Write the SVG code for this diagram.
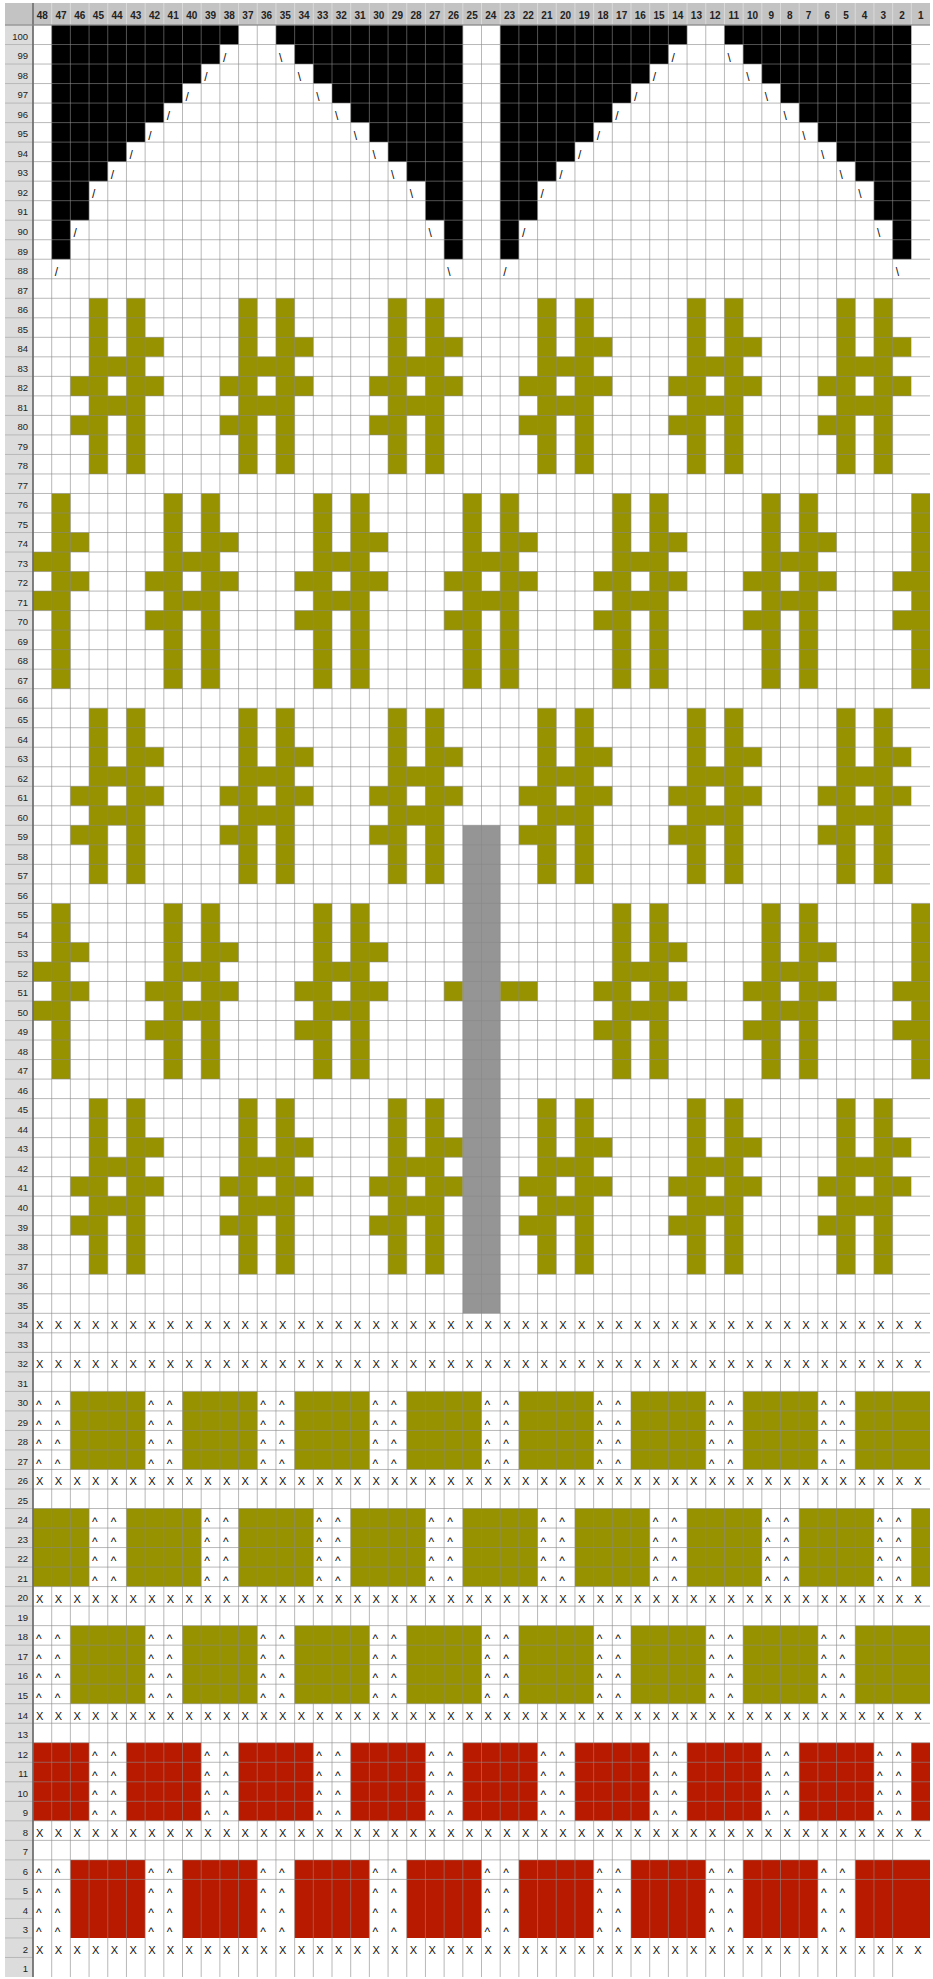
<svg xmlns="http://www.w3.org/2000/svg" xmlns:xlink="http://www.w3.org/1999/xlink" width="933" height="1979" viewBox="0 0 933 1979">
<style>
.lbl{font:9.5px "Liberation Sans",Arial,sans-serif;fill:#222;text-anchor:end}
.hdr{font:bold 10px "Liberation Sans",Arial,sans-serif;fill:#222;text-anchor:middle}
.sym{font:11px "Liberation Sans",Arial,sans-serif;fill:#111}
.car{font:12px "Liberation Sans",Arial,sans-serif;fill:#111}
.sl{font:12px "Liberation Sans",Arial,sans-serif;fill:#111}
.ol{fill:#979200}
.rd{fill:#b81a00}
.bk{fill:#000}
.gy{fill:#959595}
.grid{fill:none;stroke:#888;stroke-opacity:.6;stroke-width:1}
</style>
<defs>
<clipPath id="gridclip"><rect x="0" y="0" width="48" height="100"/></clipPath>
<path id="mA" class="ol" d="M0 0h1v9h-1zM2 0h1v9h-1zM3 2h1v1h-1zM1 3h1v1h-1zM-1 4h1v1h-1zM3 4h1v1h-1zM1 5h1v1h-1zM-1 6h1v1h-1z"/>
<path id="mB" class="ol" d="M0 0h1v10h-1zM2 0h1v10h-1zM3 2h1v1h-1zM1 3h1v1h-1zM-1 4h1v1h-1zM3 4h1v1h-1zM1 5h1v1h-1zM-1 6h1v1h-1z"/>
</defs>
<rect width="933" height="1979" fill="#fff"/>
<g id="header">
<rect x="5" y="3" width="925" height="22" fill="#c3c3c3"/>
<g transform="translate(33 25) scale(18.6875 19.52)"><path d="M0 -1.13v1.13m1-1.13v1.13m1-1.13v1.13m1-1.13v1.13m1-1.13v1.13m1-1.13v1.13m1-1.13v1.13m1-1.13v1.13m1-1.13v1.13m1-1.13v1.13m1-1.13v1.13m1-1.13v1.13m1-1.13v1.13m1-1.13v1.13m1-1.13v1.13m1-1.13v1.13m1-1.13v1.13m1-1.13v1.13m1-1.13v1.13m1-1.13v1.13m1-1.13v1.13m1-1.13v1.13m1-1.13v1.13m1-1.13v1.13m1-1.13v1.13m1-1.13v1.13m1-1.13v1.13m1-1.13v1.13m1-1.13v1.13m1-1.13v1.13m1-1.13v1.13m1-1.13v1.13m1-1.13v1.13m1-1.13v1.13m1-1.13v1.13m1-1.13v1.13m1-1.13v1.13m1-1.13v1.13m1-1.13v1.13m1-1.13v1.13m1-1.13v1.13m1-1.13v1.13m1-1.13v1.13m1-1.13v1.13m1-1.13v1.13m1-1.13v1.13m1-1.13v1.13m1-1.13v1.13" fill="none" stroke="#dadada" stroke-width="1" vector-effect="non-scaling-stroke"/></g>
<text class="hdr" x="42.34" y="19">48</text><text class="hdr" x="61.03" y="19">47</text><text class="hdr" x="79.72" y="19">46</text><text class="hdr" x="98.41" y="19">45</text><text class="hdr" x="117.09" y="19">44</text><text class="hdr" x="135.78" y="19">43</text><text class="hdr" x="154.47" y="19">42</text><text class="hdr" x="173.16" y="19">41</text><text class="hdr" x="191.84" y="19">40</text><text class="hdr" x="210.53" y="19">39</text><text class="hdr" x="229.22" y="19">38</text><text class="hdr" x="247.91" y="19">37</text><text class="hdr" x="266.59" y="19">36</text><text class="hdr" x="285.28" y="19">35</text><text class="hdr" x="303.97" y="19">34</text><text class="hdr" x="322.66" y="19">33</text><text class="hdr" x="341.34" y="19">32</text><text class="hdr" x="360.03" y="19">31</text><text class="hdr" x="378.72" y="19">30</text><text class="hdr" x="397.41" y="19">29</text><text class="hdr" x="416.09" y="19">28</text><text class="hdr" x="434.78" y="19">27</text><text class="hdr" x="453.47" y="19">26</text><text class="hdr" x="472.16" y="19">25</text><text class="hdr" x="490.84" y="19">24</text><text class="hdr" x="509.53" y="19">23</text><text class="hdr" x="528.22" y="19">22</text><text class="hdr" x="546.91" y="19">21</text><text class="hdr" x="565.59" y="19">20</text><text class="hdr" x="584.28" y="19">19</text><text class="hdr" x="602.97" y="19">18</text><text class="hdr" x="621.66" y="19">17</text><text class="hdr" x="640.34" y="19">16</text><text class="hdr" x="659.03" y="19">15</text><text class="hdr" x="677.72" y="19">14</text><text class="hdr" x="696.41" y="19">13</text><text class="hdr" x="715.09" y="19">12</text><text class="hdr" x="733.78" y="19">11</text><text class="hdr" x="752.47" y="19">10</text><text class="hdr" x="771.16" y="19">9</text><text class="hdr" x="789.84" y="19">8</text><text class="hdr" x="808.53" y="19">7</text><text class="hdr" x="827.22" y="19">6</text><text class="hdr" x="845.91" y="19">5</text><text class="hdr" x="864.59" y="19">4</text><text class="hdr" x="883.28" y="19">3</text><text class="hdr" x="901.97" y="19">2</text><text class="hdr" x="920.66" y="19">1</text>
</g>
<g id="row-labels">
<rect x="5" y="25" width="28" height="1952" fill="#dcdcdc"/>
<g transform="translate(0 25) scale(1 19.52)"><path d="M5 0h28m-28 1h28m-28 1h28m-28 1h28m-28 1h28m-28 1h28m-28 1h28m-28 1h28m-28 1h28m-28 1h28m-28 1h28m-28 1h28m-28 1h28m-28 1h28m-28 1h28m-28 1h28m-28 1h28m-28 1h28m-28 1h28m-28 1h28m-28 1h28m-28 1h28m-28 1h28m-28 1h28m-28 1h28m-28 1h28m-28 1h28m-28 1h28m-28 1h28m-28 1h28m-28 1h28m-28 1h28m-28 1h28m-28 1h28m-28 1h28m-28 1h28m-28 1h28m-28 1h28m-28 1h28m-28 1h28m-28 1h28m-28 1h28m-28 1h28m-28 1h28m-28 1h28m-28 1h28m-28 1h28m-28 1h28m-28 1h28m-28 1h28m-28 1h28m-28 1h28m-28 1h28m-28 1h28m-28 1h28m-28 1h28m-28 1h28m-28 1h28m-28 1h28m-28 1h28m-28 1h28m-28 1h28m-28 1h28m-28 1h28m-28 1h28m-28 1h28m-28 1h28m-28 1h28m-28 1h28m-28 1h28m-28 1h28m-28 1h28m-28 1h28m-28 1h28m-28 1h28m-28 1h28m-28 1h28m-28 1h28m-28 1h28m-28 1h28m-28 1h28m-28 1h28m-28 1h28m-28 1h28m-28 1h28m-28 1h28m-28 1h28m-28 1h28m-28 1h28m-28 1h28m-28 1h28m-28 1h28m-28 1h28m-28 1h28m-28 1h28m-28 1h28m-28 1h28m-28 1h28m-28 1h28m-28 1h28" fill="none" stroke="#b8b8b8" stroke-width="1" vector-effect="non-scaling-stroke"/></g>
<text class="lbl" x="28" y="39.8">100</text><text class="lbl" x="28" y="59.32">99</text><text class="lbl" x="28" y="78.84">98</text><text class="lbl" x="28" y="98.36">97</text><text class="lbl" x="28" y="117.88">96</text><text class="lbl" x="28" y="137.4">95</text><text class="lbl" x="28" y="156.92">94</text><text class="lbl" x="28" y="176.44">93</text><text class="lbl" x="28" y="195.96">92</text><text class="lbl" x="28" y="215.48">91</text><text class="lbl" x="28" y="235">90</text><text class="lbl" x="28" y="254.52">89</text><text class="lbl" x="28" y="274.04">88</text><text class="lbl" x="28" y="293.56">87</text><text class="lbl" x="28" y="313.08">86</text><text class="lbl" x="28" y="332.6">85</text><text class="lbl" x="28" y="352.12">84</text><text class="lbl" x="28" y="371.64">83</text><text class="lbl" x="28" y="391.16">82</text><text class="lbl" x="28" y="410.68">81</text><text class="lbl" x="28" y="430.2">80</text><text class="lbl" x="28" y="449.72">79</text><text class="lbl" x="28" y="469.24">78</text><text class="lbl" x="28" y="488.76">77</text><text class="lbl" x="28" y="508.28">76</text><text class="lbl" x="28" y="527.8">75</text><text class="lbl" x="28" y="547.32">74</text><text class="lbl" x="28" y="566.84">73</text><text class="lbl" x="28" y="586.36">72</text><text class="lbl" x="28" y="605.88">71</text><text class="lbl" x="28" y="625.4">70</text><text class="lbl" x="28" y="644.92">69</text><text class="lbl" x="28" y="664.44">68</text><text class="lbl" x="28" y="683.96">67</text><text class="lbl" x="28" y="703.48">66</text><text class="lbl" x="28" y="723">65</text><text class="lbl" x="28" y="742.52">64</text><text class="lbl" x="28" y="762.04">63</text><text class="lbl" x="28" y="781.56">62</text><text class="lbl" x="28" y="801.08">61</text><text class="lbl" x="28" y="820.6">60</text><text class="lbl" x="28" y="840.12">59</text><text class="lbl" x="28" y="859.64">58</text><text class="lbl" x="28" y="879.16">57</text><text class="lbl" x="28" y="898.68">56</text><text class="lbl" x="28" y="918.2">55</text><text class="lbl" x="28" y="937.72">54</text><text class="lbl" x="28" y="957.24">53</text><text class="lbl" x="28" y="976.76">52</text><text class="lbl" x="28" y="996.28">51</text><text class="lbl" x="28" y="1015.8">50</text><text class="lbl" x="28" y="1035.32">49</text><text class="lbl" x="28" y="1054.84">48</text><text class="lbl" x="28" y="1074.36">47</text><text class="lbl" x="28" y="1093.88">46</text><text class="lbl" x="28" y="1113.4">45</text><text class="lbl" x="28" y="1132.92">44</text><text class="lbl" x="28" y="1152.44">43</text><text class="lbl" x="28" y="1171.96">42</text><text class="lbl" x="28" y="1191.48">41</text><text class="lbl" x="28" y="1211">40</text><text class="lbl" x="28" y="1230.52">39</text><text class="lbl" x="28" y="1250.04">38</text><text class="lbl" x="28" y="1269.56">37</text><text class="lbl" x="28" y="1289.08">36</text><text class="lbl" x="28" y="1308.6">35</text><text class="lbl" x="28" y="1328.12">34</text><text class="lbl" x="28" y="1347.64">33</text><text class="lbl" x="28" y="1367.16">32</text><text class="lbl" x="28" y="1386.68">31</text><text class="lbl" x="28" y="1406.2">30</text><text class="lbl" x="28" y="1425.72">29</text><text class="lbl" x="28" y="1445.24">28</text><text class="lbl" x="28" y="1464.76">27</text><text class="lbl" x="28" y="1484.28">26</text><text class="lbl" x="28" y="1503.8">25</text><text class="lbl" x="28" y="1523.32">24</text><text class="lbl" x="28" y="1542.84">23</text><text class="lbl" x="28" y="1562.36">22</text><text class="lbl" x="28" y="1581.88">21</text><text class="lbl" x="28" y="1601.4">20</text><text class="lbl" x="28" y="1620.92">19</text><text class="lbl" x="28" y="1640.44">18</text><text class="lbl" x="28" y="1659.96">17</text><text class="lbl" x="28" y="1679.48">16</text><text class="lbl" x="28" y="1699">15</text><text class="lbl" x="28" y="1718.52">14</text><text class="lbl" x="28" y="1738.04">13</text><text class="lbl" x="28" y="1757.56">12</text><text class="lbl" x="28" y="1777.08">11</text><text class="lbl" x="28" y="1796.6">10</text><text class="lbl" x="28" y="1816.12">9</text><text class="lbl" x="28" y="1835.64">8</text><text class="lbl" x="28" y="1855.16">7</text><text class="lbl" x="28" y="1874.68">6</text><text class="lbl" x="28" y="1894.2">5</text><text class="lbl" x="28" y="1913.72">4</text><text class="lbl" x="28" y="1933.24">3</text><text class="lbl" x="28" y="1952.76">2</text><text class="lbl" x="28" y="1972.28">1</text>
</g>
<g id="cells" transform="translate(33 25) scale(18.6875 19.52)">
<g clip-path="url(#gridclip)">
<g id="black-triangles">
<polygon class="bk" points="1,0 11,0 11,1 10,1 10,2 9,2 9,3 8,3 8,4 7,4 7,5 6,5 6,6 5,6 5,7 4,7 4,8 3,8 3,10 2,10 2,12 1,12"/>
<polygon class="bk" points="13,0 23,0 23,12 22,12 22,10 21,10 21,8 20,8 20,7 19,7 19,6 18,6 18,5 17,5 17,4 16,4 16,3 15,3 15,2 14,2 14,1 13,1"/>
<polygon class="bk" points="25,0 35,0 35,1 34,1 34,2 33,2 33,3 32,3 32,4 31,4 31,5 30,5 30,6 29,6 29,7 28,7 28,8 27,8 27,10 26,10 26,12 25,12"/>
<polygon class="bk" points="37,0 47,0 47,12 46,12 46,10 45,10 45,8 44,8 44,7 43,7 43,6 42,6 42,5 41,5 41,4 40,4 40,3 39,3 39,2 38,2 38,1 37,1"/>
</g>
<g id="motifs">
<use href="#mA" x="3" y="14"/><use href="#mA" x="11" y="14"/><use href="#mA" x="19" y="14"/><use href="#mA" x="27" y="14"/><use href="#mA" x="35" y="14"/><use href="#mA" x="43" y="14"/>
<use href="#mB" x="-1" y="24"/><use href="#mB" x="7" y="24"/><use href="#mB" x="15" y="24"/><use href="#mB" x="23" y="24"/><use href="#mB" x="31" y="24"/><use href="#mB" x="39" y="24"/><use href="#mB" x="47" y="24"/>
<use href="#mA" x="3" y="35"/><use href="#mA" x="11" y="35"/><use href="#mA" x="19" y="35"/><use href="#mA" x="27" y="35"/><use href="#mA" x="35" y="35"/><use href="#mA" x="43" y="35"/>
<use href="#mA" x="-1" y="45"/><use href="#mA" x="7" y="45"/><use href="#mA" x="15" y="45"/><use href="#mA" x="31" y="45"/><use href="#mA" x="39" y="45"/><use href="#mA" x="47" y="45"/>
<rect class="ol" x="22" y="49" width="1" height="1"/><rect class="ol" x="25" y="49" width="2" height="1"/>
<use href="#mA" x="3" y="55"/><use href="#mA" x="11" y="55"/><use href="#mA" x="19" y="55"/><use href="#mA" x="27" y="55"/><use href="#mA" x="35" y="55"/><use href="#mA" x="43" y="55"/>
</g>
<rect id="gray-column" class="gy" x="23" y="41" width="2" height="25"/>
<g id="bands">
<path class="ol" d="M2 70h4v4h-4zM8 70h4v4h-4zM14 70h4v4h-4zM20 70h4v4h-4zM26 70h4v4h-4zM32 70h4v4h-4zM38 70h4v4h-4zM44 70h4v4h-4z"/>
<path class="ol" d="M0 76h3v4h-3zM5 76h4v4h-4zM11 76h4v4h-4zM17 76h4v4h-4zM23 76h4v4h-4zM29 76h4v4h-4zM35 76h4v4h-4zM41 76h4v4h-4zM47 76h1v4h-1z"/>
<path class="ol" d="M2 82h4v4h-4zM8 82h4v4h-4zM14 82h4v4h-4zM20 82h4v4h-4zM26 82h4v4h-4zM32 82h4v4h-4zM38 82h4v4h-4zM44 82h4v4h-4z"/>
<path class="rd" d="M0 88h3v4h-3zM5 88h4v4h-4zM11 88h4v4h-4zM17 88h4v4h-4zM23 88h4v4h-4zM29 88h4v4h-4zM35 88h4v4h-4zM41 88h4v4h-4zM47 88h1v4h-1z"/>
<path class="rd" d="M2 94h4v4h-4zM8 94h4v4h-4zM14 94h4v4h-4zM20 94h4v4h-4zM26 94h4v4h-4zM32 94h4v4h-4zM38 94h4v4h-4zM44 94h4v4h-4z"/>
</g>
</g>
</g>
<g id="grid" transform="translate(33 25) scale(18.6875 19.52)">
<path class="grid" vector-effect="non-scaling-stroke" d="M0 0v100m1-100v100m1-100v100m1-100v100m1-100v100m1-100v100m1-100v100m1-100v100m1-100v100m1-100v100m1-100v100m1-100v100m1-100v100m1-100v100m1-100v100m1-100v100m1-100v100m1-100v100m1-100v100m1-100v100m1-100v100m1-100v100m1-100v100m1-100v100m1-100v100m1-100v100m1-100v100m1-100v100m1-100v100m1-100v100m1-100v100m1-100v100m1-100v100m1-100v100m1-100v100m1-100v100m1-100v100m1-100v100m1-100v100m1-100v100m1-100v100m1-100v100m1-100v100m1-100v100m1-100v100m1-100v100m1-100v100"/>
<path class="grid" vector-effect="non-scaling-stroke" d="M0 0h48m-48 1h48m-48 1h48m-48 1h48m-48 1h48m-48 1h48m-48 1h48m-48 1h48m-48 1h48m-48 1h48m-48 1h48m-48 1h48m-48 1h48m-48 1h48m-48 1h48m-48 1h48m-48 1h48m-48 1h48m-48 1h48m-48 1h48m-48 1h48m-48 1h48m-48 1h48m-48 1h48m-48 1h48m-48 1h48m-48 1h48m-48 1h48m-48 1h48m-48 1h48m-48 1h48m-48 1h48m-48 1h48m-48 1h48m-48 1h48m-48 1h48m-48 1h48m-48 1h48m-48 1h48m-48 1h48m-48 1h48m-48 1h48m-48 1h48m-48 1h48m-48 1h48m-48 1h48m-48 1h48m-48 1h48m-48 1h48m-48 1h48m-48 1h48m-48 1h48m-48 1h48m-48 1h48m-48 1h48m-48 1h48m-48 1h48m-48 1h48m-48 1h48m-48 1h48m-48 1h48m-48 1h48m-48 1h48m-48 1h48m-48 1h48m-48 1h48m-48 1h48m-48 1h48m-48 1h48m-48 1h48m-48 1h48m-48 1h48m-48 1h48m-48 1h48m-48 1h48m-48 1h48m-48 1h48m-48 1h48m-48 1h48m-48 1h48m-48 1h48m-48 1h48m-48 1h48m-48 1h48m-48 1h48m-48 1h48m-48 1h48m-48 1h48m-48 1h48m-48 1h48m-48 1h48m-48 1h48m-48 1h48m-48 1h48m-48 1h48m-48 1h48"/>
</g>
<line x1="33" y1="3" x2="33" y2="1977" stroke="#6a6a6a" stroke-width="1.6"/>
<line x1="5" y1="25" x2="930" y2="25" stroke="#8a8a8a" stroke-width="1"/>
<g id="decrease-marks">
<text class="sl" x="222.88" y="61.52">/</text><text class="sl" x="204.19" y="81.04">/</text><text class="sl" x="185.5" y="100.56">/</text><text class="sl" x="166.81" y="120.08">/</text><text class="sl" x="148.13" y="139.6">/</text><text class="sl" x="129.44" y="159.12">/</text><text class="sl" x="110.75" y="178.64">/</text><text class="sl" x="92.06" y="198.16">/</text><text class="sl" x="73.38" y="237.2">/</text><text class="sl" x="54.69" y="276.24">/</text>
<text class="sl" x="278.94" y="61.52">\</text><text class="sl" x="297.63" y="81.04">\</text><text class="sl" x="316.31" y="100.56">\</text><text class="sl" x="335" y="120.08">\</text><text class="sl" x="353.69" y="139.6">\</text><text class="sl" x="372.38" y="159.12">\</text><text class="sl" x="391.06" y="178.64">\</text><text class="sl" x="409.75" y="198.16">\</text><text class="sl" x="428.44" y="237.2">\</text><text class="sl" x="447.13" y="276.24">\</text>
<text class="sl" x="671.38" y="61.52">/</text><text class="sl" x="652.69" y="81.04">/</text><text class="sl" x="634" y="100.56">/</text><text class="sl" x="615.31" y="120.08">/</text><text class="sl" x="596.63" y="139.6">/</text><text class="sl" x="577.94" y="159.12">/</text><text class="sl" x="559.25" y="178.64">/</text><text class="sl" x="540.56" y="198.16">/</text><text class="sl" x="521.88" y="237.2">/</text><text class="sl" x="503.19" y="276.24">/</text>
<text class="sl" x="727.44" y="61.52">\</text><text class="sl" x="746.13" y="81.04">\</text><text class="sl" x="764.81" y="100.56">\</text><text class="sl" x="783.5" y="120.08">\</text><text class="sl" x="802.19" y="139.6">\</text><text class="sl" x="820.88" y="159.12">\</text><text class="sl" x="839.56" y="178.64">\</text><text class="sl" x="858.25" y="198.16">\</text><text class="sl" x="876.94" y="237.2">\</text><text class="sl" x="895.63" y="276.24">\</text>
</g>
<g id="x-rows">
<g transform="translate(0 1329.32)"><text class="sym" x="36">X</text><text class="sym" x="54.69">X</text><text class="sym" x="73.38">X</text><text class="sym" x="92.06">X</text><text class="sym" x="110.75">X</text><text class="sym" x="129.44">X</text><text class="sym" x="148.13">X</text><text class="sym" x="166.81">X</text><text class="sym" x="185.5">X</text><text class="sym" x="204.19">X</text><text class="sym" x="222.88">X</text><text class="sym" x="241.56">X</text><text class="sym" x="260.25">X</text><text class="sym" x="278.94">X</text><text class="sym" x="297.63">X</text><text class="sym" x="316.31">X</text><text class="sym" x="335">X</text><text class="sym" x="353.69">X</text><text class="sym" x="372.38">X</text><text class="sym" x="391.06">X</text><text class="sym" x="409.75">X</text><text class="sym" x="428.44">X</text><text class="sym" x="447.13">X</text><text class="sym" x="465.81">X</text><text class="sym" x="484.5">X</text><text class="sym" x="503.19">X</text><text class="sym" x="521.88">X</text><text class="sym" x="540.56">X</text><text class="sym" x="559.25">X</text><text class="sym" x="577.94">X</text><text class="sym" x="596.63">X</text><text class="sym" x="615.31">X</text><text class="sym" x="634">X</text><text class="sym" x="652.69">X</text><text class="sym" x="671.38">X</text><text class="sym" x="690.06">X</text><text class="sym" x="708.75">X</text><text class="sym" x="727.44">X</text><text class="sym" x="746.13">X</text><text class="sym" x="764.81">X</text><text class="sym" x="783.5">X</text><text class="sym" x="802.19">X</text><text class="sym" x="820.88">X</text><text class="sym" x="839.56">X</text><text class="sym" x="858.25">X</text><text class="sym" x="876.94">X</text><text class="sym" x="895.63">X</text><text class="sym" x="914.31">X</text></g>
<g transform="translate(0 1368.36)"><text class="sym" x="36">X</text><text class="sym" x="54.69">X</text><text class="sym" x="73.38">X</text><text class="sym" x="92.06">X</text><text class="sym" x="110.75">X</text><text class="sym" x="129.44">X</text><text class="sym" x="148.13">X</text><text class="sym" x="166.81">X</text><text class="sym" x="185.5">X</text><text class="sym" x="204.19">X</text><text class="sym" x="222.88">X</text><text class="sym" x="241.56">X</text><text class="sym" x="260.25">X</text><text class="sym" x="278.94">X</text><text class="sym" x="297.63">X</text><text class="sym" x="316.31">X</text><text class="sym" x="335">X</text><text class="sym" x="353.69">X</text><text class="sym" x="372.38">X</text><text class="sym" x="391.06">X</text><text class="sym" x="409.75">X</text><text class="sym" x="428.44">X</text><text class="sym" x="447.13">X</text><text class="sym" x="465.81">X</text><text class="sym" x="484.5">X</text><text class="sym" x="503.19">X</text><text class="sym" x="521.88">X</text><text class="sym" x="540.56">X</text><text class="sym" x="559.25">X</text><text class="sym" x="577.94">X</text><text class="sym" x="596.63">X</text><text class="sym" x="615.31">X</text><text class="sym" x="634">X</text><text class="sym" x="652.69">X</text><text class="sym" x="671.38">X</text><text class="sym" x="690.06">X</text><text class="sym" x="708.75">X</text><text class="sym" x="727.44">X</text><text class="sym" x="746.13">X</text><text class="sym" x="764.81">X</text><text class="sym" x="783.5">X</text><text class="sym" x="802.19">X</text><text class="sym" x="820.88">X</text><text class="sym" x="839.56">X</text><text class="sym" x="858.25">X</text><text class="sym" x="876.94">X</text><text class="sym" x="895.63">X</text><text class="sym" x="914.31">X</text></g>
<g transform="translate(0 1485.48)"><text class="sym" x="36">X</text><text class="sym" x="54.69">X</text><text class="sym" x="73.38">X</text><text class="sym" x="92.06">X</text><text class="sym" x="110.75">X</text><text class="sym" x="129.44">X</text><text class="sym" x="148.13">X</text><text class="sym" x="166.81">X</text><text class="sym" x="185.5">X</text><text class="sym" x="204.19">X</text><text class="sym" x="222.88">X</text><text class="sym" x="241.56">X</text><text class="sym" x="260.25">X</text><text class="sym" x="278.94">X</text><text class="sym" x="297.63">X</text><text class="sym" x="316.31">X</text><text class="sym" x="335">X</text><text class="sym" x="353.69">X</text><text class="sym" x="372.38">X</text><text class="sym" x="391.06">X</text><text class="sym" x="409.75">X</text><text class="sym" x="428.44">X</text><text class="sym" x="447.13">X</text><text class="sym" x="465.81">X</text><text class="sym" x="484.5">X</text><text class="sym" x="503.19">X</text><text class="sym" x="521.88">X</text><text class="sym" x="540.56">X</text><text class="sym" x="559.25">X</text><text class="sym" x="577.94">X</text><text class="sym" x="596.63">X</text><text class="sym" x="615.31">X</text><text class="sym" x="634">X</text><text class="sym" x="652.69">X</text><text class="sym" x="671.38">X</text><text class="sym" x="690.06">X</text><text class="sym" x="708.75">X</text><text class="sym" x="727.44">X</text><text class="sym" x="746.13">X</text><text class="sym" x="764.81">X</text><text class="sym" x="783.5">X</text><text class="sym" x="802.19">X</text><text class="sym" x="820.88">X</text><text class="sym" x="839.56">X</text><text class="sym" x="858.25">X</text><text class="sym" x="876.94">X</text><text class="sym" x="895.63">X</text><text class="sym" x="914.31">X</text></g>
<g transform="translate(0 1602.6)"><text class="sym" x="36">X</text><text class="sym" x="54.69">X</text><text class="sym" x="73.38">X</text><text class="sym" x="92.06">X</text><text class="sym" x="110.75">X</text><text class="sym" x="129.44">X</text><text class="sym" x="148.13">X</text><text class="sym" x="166.81">X</text><text class="sym" x="185.5">X</text><text class="sym" x="204.19">X</text><text class="sym" x="222.88">X</text><text class="sym" x="241.56">X</text><text class="sym" x="260.25">X</text><text class="sym" x="278.94">X</text><text class="sym" x="297.63">X</text><text class="sym" x="316.31">X</text><text class="sym" x="335">X</text><text class="sym" x="353.69">X</text><text class="sym" x="372.38">X</text><text class="sym" x="391.06">X</text><text class="sym" x="409.75">X</text><text class="sym" x="428.44">X</text><text class="sym" x="447.13">X</text><text class="sym" x="465.81">X</text><text class="sym" x="484.5">X</text><text class="sym" x="503.19">X</text><text class="sym" x="521.88">X</text><text class="sym" x="540.56">X</text><text class="sym" x="559.25">X</text><text class="sym" x="577.94">X</text><text class="sym" x="596.63">X</text><text class="sym" x="615.31">X</text><text class="sym" x="634">X</text><text class="sym" x="652.69">X</text><text class="sym" x="671.38">X</text><text class="sym" x="690.06">X</text><text class="sym" x="708.75">X</text><text class="sym" x="727.44">X</text><text class="sym" x="746.13">X</text><text class="sym" x="764.81">X</text><text class="sym" x="783.5">X</text><text class="sym" x="802.19">X</text><text class="sym" x="820.88">X</text><text class="sym" x="839.56">X</text><text class="sym" x="858.25">X</text><text class="sym" x="876.94">X</text><text class="sym" x="895.63">X</text><text class="sym" x="914.31">X</text></g>
<g transform="translate(0 1719.72)"><text class="sym" x="36">X</text><text class="sym" x="54.69">X</text><text class="sym" x="73.38">X</text><text class="sym" x="92.06">X</text><text class="sym" x="110.75">X</text><text class="sym" x="129.44">X</text><text class="sym" x="148.13">X</text><text class="sym" x="166.81">X</text><text class="sym" x="185.5">X</text><text class="sym" x="204.19">X</text><text class="sym" x="222.88">X</text><text class="sym" x="241.56">X</text><text class="sym" x="260.25">X</text><text class="sym" x="278.94">X</text><text class="sym" x="297.63">X</text><text class="sym" x="316.31">X</text><text class="sym" x="335">X</text><text class="sym" x="353.69">X</text><text class="sym" x="372.38">X</text><text class="sym" x="391.06">X</text><text class="sym" x="409.75">X</text><text class="sym" x="428.44">X</text><text class="sym" x="447.13">X</text><text class="sym" x="465.81">X</text><text class="sym" x="484.5">X</text><text class="sym" x="503.19">X</text><text class="sym" x="521.88">X</text><text class="sym" x="540.56">X</text><text class="sym" x="559.25">X</text><text class="sym" x="577.94">X</text><text class="sym" x="596.63">X</text><text class="sym" x="615.31">X</text><text class="sym" x="634">X</text><text class="sym" x="652.69">X</text><text class="sym" x="671.38">X</text><text class="sym" x="690.06">X</text><text class="sym" x="708.75">X</text><text class="sym" x="727.44">X</text><text class="sym" x="746.13">X</text><text class="sym" x="764.81">X</text><text class="sym" x="783.5">X</text><text class="sym" x="802.19">X</text><text class="sym" x="820.88">X</text><text class="sym" x="839.56">X</text><text class="sym" x="858.25">X</text><text class="sym" x="876.94">X</text><text class="sym" x="895.63">X</text><text class="sym" x="914.31">X</text></g>
<g transform="translate(0 1836.84)"><text class="sym" x="36">X</text><text class="sym" x="54.69">X</text><text class="sym" x="73.38">X</text><text class="sym" x="92.06">X</text><text class="sym" x="110.75">X</text><text class="sym" x="129.44">X</text><text class="sym" x="148.13">X</text><text class="sym" x="166.81">X</text><text class="sym" x="185.5">X</text><text class="sym" x="204.19">X</text><text class="sym" x="222.88">X</text><text class="sym" x="241.56">X</text><text class="sym" x="260.25">X</text><text class="sym" x="278.94">X</text><text class="sym" x="297.63">X</text><text class="sym" x="316.31">X</text><text class="sym" x="335">X</text><text class="sym" x="353.69">X</text><text class="sym" x="372.38">X</text><text class="sym" x="391.06">X</text><text class="sym" x="409.75">X</text><text class="sym" x="428.44">X</text><text class="sym" x="447.13">X</text><text class="sym" x="465.81">X</text><text class="sym" x="484.5">X</text><text class="sym" x="503.19">X</text><text class="sym" x="521.88">X</text><text class="sym" x="540.56">X</text><text class="sym" x="559.25">X</text><text class="sym" x="577.94">X</text><text class="sym" x="596.63">X</text><text class="sym" x="615.31">X</text><text class="sym" x="634">X</text><text class="sym" x="652.69">X</text><text class="sym" x="671.38">X</text><text class="sym" x="690.06">X</text><text class="sym" x="708.75">X</text><text class="sym" x="727.44">X</text><text class="sym" x="746.13">X</text><text class="sym" x="764.81">X</text><text class="sym" x="783.5">X</text><text class="sym" x="802.19">X</text><text class="sym" x="820.88">X</text><text class="sym" x="839.56">X</text><text class="sym" x="858.25">X</text><text class="sym" x="876.94">X</text><text class="sym" x="895.63">X</text><text class="sym" x="914.31">X</text></g>
<g transform="translate(0 1953.96)"><text class="sym" x="36">X</text><text class="sym" x="54.69">X</text><text class="sym" x="73.38">X</text><text class="sym" x="92.06">X</text><text class="sym" x="110.75">X</text><text class="sym" x="129.44">X</text><text class="sym" x="148.13">X</text><text class="sym" x="166.81">X</text><text class="sym" x="185.5">X</text><text class="sym" x="204.19">X</text><text class="sym" x="222.88">X</text><text class="sym" x="241.56">X</text><text class="sym" x="260.25">X</text><text class="sym" x="278.94">X</text><text class="sym" x="297.63">X</text><text class="sym" x="316.31">X</text><text class="sym" x="335">X</text><text class="sym" x="353.69">X</text><text class="sym" x="372.38">X</text><text class="sym" x="391.06">X</text><text class="sym" x="409.75">X</text><text class="sym" x="428.44">X</text><text class="sym" x="447.13">X</text><text class="sym" x="465.81">X</text><text class="sym" x="484.5">X</text><text class="sym" x="503.19">X</text><text class="sym" x="521.88">X</text><text class="sym" x="540.56">X</text><text class="sym" x="559.25">X</text><text class="sym" x="577.94">X</text><text class="sym" x="596.63">X</text><text class="sym" x="615.31">X</text><text class="sym" x="634">X</text><text class="sym" x="652.69">X</text><text class="sym" x="671.38">X</text><text class="sym" x="690.06">X</text><text class="sym" x="708.75">X</text><text class="sym" x="727.44">X</text><text class="sym" x="746.13">X</text><text class="sym" x="764.81">X</text><text class="sym" x="783.5">X</text><text class="sym" x="802.19">X</text><text class="sym" x="820.88">X</text><text class="sym" x="839.56">X</text><text class="sym" x="858.25">X</text><text class="sym" x="876.94">X</text><text class="sym" x="895.63">X</text><text class="sym" x="914.31">X</text></g>
</g>
<g id="caret-rows">
<g transform="translate(0 1409)"><text class="car" x="36">^</text><text class="car" x="54.69">^</text><text class="car" x="148.13">^</text><text class="car" x="166.81">^</text><text class="car" x="260.25">^</text><text class="car" x="278.94">^</text><text class="car" x="372.38">^</text><text class="car" x="391.06">^</text><text class="car" x="484.5">^</text><text class="car" x="503.19">^</text><text class="car" x="596.63">^</text><text class="car" x="615.31">^</text><text class="car" x="708.75">^</text><text class="car" x="727.44">^</text><text class="car" x="820.88">^</text><text class="car" x="839.56">^</text></g>
<g transform="translate(0 1428.52)"><text class="car" x="36">^</text><text class="car" x="54.69">^</text><text class="car" x="148.13">^</text><text class="car" x="166.81">^</text><text class="car" x="260.25">^</text><text class="car" x="278.94">^</text><text class="car" x="372.38">^</text><text class="car" x="391.06">^</text><text class="car" x="484.5">^</text><text class="car" x="503.19">^</text><text class="car" x="596.63">^</text><text class="car" x="615.31">^</text><text class="car" x="708.75">^</text><text class="car" x="727.44">^</text><text class="car" x="820.88">^</text><text class="car" x="839.56">^</text></g>
<g transform="translate(0 1448.04)"><text class="car" x="36">^</text><text class="car" x="54.69">^</text><text class="car" x="148.13">^</text><text class="car" x="166.81">^</text><text class="car" x="260.25">^</text><text class="car" x="278.94">^</text><text class="car" x="372.38">^</text><text class="car" x="391.06">^</text><text class="car" x="484.5">^</text><text class="car" x="503.19">^</text><text class="car" x="596.63">^</text><text class="car" x="615.31">^</text><text class="car" x="708.75">^</text><text class="car" x="727.44">^</text><text class="car" x="820.88">^</text><text class="car" x="839.56">^</text></g>
<g transform="translate(0 1467.56)"><text class="car" x="36">^</text><text class="car" x="54.69">^</text><text class="car" x="148.13">^</text><text class="car" x="166.81">^</text><text class="car" x="260.25">^</text><text class="car" x="278.94">^</text><text class="car" x="372.38">^</text><text class="car" x="391.06">^</text><text class="car" x="484.5">^</text><text class="car" x="503.19">^</text><text class="car" x="596.63">^</text><text class="car" x="615.31">^</text><text class="car" x="708.75">^</text><text class="car" x="727.44">^</text><text class="car" x="820.88">^</text><text class="car" x="839.56">^</text></g>
<g transform="translate(0 1526.12)"><text class="car" x="92.06">^</text><text class="car" x="110.75">^</text><text class="car" x="204.19">^</text><text class="car" x="222.88">^</text><text class="car" x="316.31">^</text><text class="car" x="335">^</text><text class="car" x="428.44">^</text><text class="car" x="447.13">^</text><text class="car" x="540.56">^</text><text class="car" x="559.25">^</text><text class="car" x="652.69">^</text><text class="car" x="671.38">^</text><text class="car" x="764.81">^</text><text class="car" x="783.5">^</text><text class="car" x="876.94">^</text><text class="car" x="895.63">^</text></g>
<g transform="translate(0 1545.64)"><text class="car" x="92.06">^</text><text class="car" x="110.75">^</text><text class="car" x="204.19">^</text><text class="car" x="222.88">^</text><text class="car" x="316.31">^</text><text class="car" x="335">^</text><text class="car" x="428.44">^</text><text class="car" x="447.13">^</text><text class="car" x="540.56">^</text><text class="car" x="559.25">^</text><text class="car" x="652.69">^</text><text class="car" x="671.38">^</text><text class="car" x="764.81">^</text><text class="car" x="783.5">^</text><text class="car" x="876.94">^</text><text class="car" x="895.63">^</text></g>
<g transform="translate(0 1565.16)"><text class="car" x="92.06">^</text><text class="car" x="110.75">^</text><text class="car" x="204.19">^</text><text class="car" x="222.88">^</text><text class="car" x="316.31">^</text><text class="car" x="335">^</text><text class="car" x="428.44">^</text><text class="car" x="447.13">^</text><text class="car" x="540.56">^</text><text class="car" x="559.25">^</text><text class="car" x="652.69">^</text><text class="car" x="671.38">^</text><text class="car" x="764.81">^</text><text class="car" x="783.5">^</text><text class="car" x="876.94">^</text><text class="car" x="895.63">^</text></g>
<g transform="translate(0 1584.68)"><text class="car" x="92.06">^</text><text class="car" x="110.75">^</text><text class="car" x="204.19">^</text><text class="car" x="222.88">^</text><text class="car" x="316.31">^</text><text class="car" x="335">^</text><text class="car" x="428.44">^</text><text class="car" x="447.13">^</text><text class="car" x="540.56">^</text><text class="car" x="559.25">^</text><text class="car" x="652.69">^</text><text class="car" x="671.38">^</text><text class="car" x="764.81">^</text><text class="car" x="783.5">^</text><text class="car" x="876.94">^</text><text class="car" x="895.63">^</text></g>
<g transform="translate(0 1643.24)"><text class="car" x="36">^</text><text class="car" x="54.69">^</text><text class="car" x="148.13">^</text><text class="car" x="166.81">^</text><text class="car" x="260.25">^</text><text class="car" x="278.94">^</text><text class="car" x="372.38">^</text><text class="car" x="391.06">^</text><text class="car" x="484.5">^</text><text class="car" x="503.19">^</text><text class="car" x="596.63">^</text><text class="car" x="615.31">^</text><text class="car" x="708.75">^</text><text class="car" x="727.44">^</text><text class="car" x="820.88">^</text><text class="car" x="839.56">^</text></g>
<g transform="translate(0 1662.76)"><text class="car" x="36">^</text><text class="car" x="54.69">^</text><text class="car" x="148.13">^</text><text class="car" x="166.81">^</text><text class="car" x="260.25">^</text><text class="car" x="278.94">^</text><text class="car" x="372.38">^</text><text class="car" x="391.06">^</text><text class="car" x="484.5">^</text><text class="car" x="503.19">^</text><text class="car" x="596.63">^</text><text class="car" x="615.31">^</text><text class="car" x="708.75">^</text><text class="car" x="727.44">^</text><text class="car" x="820.88">^</text><text class="car" x="839.56">^</text></g>
<g transform="translate(0 1682.28)"><text class="car" x="36">^</text><text class="car" x="54.69">^</text><text class="car" x="148.13">^</text><text class="car" x="166.81">^</text><text class="car" x="260.25">^</text><text class="car" x="278.94">^</text><text class="car" x="372.38">^</text><text class="car" x="391.06">^</text><text class="car" x="484.5">^</text><text class="car" x="503.19">^</text><text class="car" x="596.63">^</text><text class="car" x="615.31">^</text><text class="car" x="708.75">^</text><text class="car" x="727.44">^</text><text class="car" x="820.88">^</text><text class="car" x="839.56">^</text></g>
<g transform="translate(0 1701.8)"><text class="car" x="36">^</text><text class="car" x="54.69">^</text><text class="car" x="148.13">^</text><text class="car" x="166.81">^</text><text class="car" x="260.25">^</text><text class="car" x="278.94">^</text><text class="car" x="372.38">^</text><text class="car" x="391.06">^</text><text class="car" x="484.5">^</text><text class="car" x="503.19">^</text><text class="car" x="596.63">^</text><text class="car" x="615.31">^</text><text class="car" x="708.75">^</text><text class="car" x="727.44">^</text><text class="car" x="820.88">^</text><text class="car" x="839.56">^</text></g>
<g transform="translate(0 1760.36)"><text class="car" x="92.06">^</text><text class="car" x="110.75">^</text><text class="car" x="204.19">^</text><text class="car" x="222.88">^</text><text class="car" x="316.31">^</text><text class="car" x="335">^</text><text class="car" x="428.44">^</text><text class="car" x="447.13">^</text><text class="car" x="540.56">^</text><text class="car" x="559.25">^</text><text class="car" x="652.69">^</text><text class="car" x="671.38">^</text><text class="car" x="764.81">^</text><text class="car" x="783.5">^</text><text class="car" x="876.94">^</text><text class="car" x="895.63">^</text></g>
<g transform="translate(0 1779.88)"><text class="car" x="92.06">^</text><text class="car" x="110.75">^</text><text class="car" x="204.19">^</text><text class="car" x="222.88">^</text><text class="car" x="316.31">^</text><text class="car" x="335">^</text><text class="car" x="428.44">^</text><text class="car" x="447.13">^</text><text class="car" x="540.56">^</text><text class="car" x="559.25">^</text><text class="car" x="652.69">^</text><text class="car" x="671.38">^</text><text class="car" x="764.81">^</text><text class="car" x="783.5">^</text><text class="car" x="876.94">^</text><text class="car" x="895.63">^</text></g>
<g transform="translate(0 1799.4)"><text class="car" x="92.06">^</text><text class="car" x="110.75">^</text><text class="car" x="204.19">^</text><text class="car" x="222.88">^</text><text class="car" x="316.31">^</text><text class="car" x="335">^</text><text class="car" x="428.44">^</text><text class="car" x="447.13">^</text><text class="car" x="540.56">^</text><text class="car" x="559.25">^</text><text class="car" x="652.69">^</text><text class="car" x="671.38">^</text><text class="car" x="764.81">^</text><text class="car" x="783.5">^</text><text class="car" x="876.94">^</text><text class="car" x="895.63">^</text></g>
<g transform="translate(0 1818.92)"><text class="car" x="92.06">^</text><text class="car" x="110.75">^</text><text class="car" x="204.19">^</text><text class="car" x="222.88">^</text><text class="car" x="316.31">^</text><text class="car" x="335">^</text><text class="car" x="428.44">^</text><text class="car" x="447.13">^</text><text class="car" x="540.56">^</text><text class="car" x="559.25">^</text><text class="car" x="652.69">^</text><text class="car" x="671.38">^</text><text class="car" x="764.81">^</text><text class="car" x="783.5">^</text><text class="car" x="876.94">^</text><text class="car" x="895.63">^</text></g>
<g transform="translate(0 1877.48)"><text class="car" x="36">^</text><text class="car" x="54.69">^</text><text class="car" x="148.13">^</text><text class="car" x="166.81">^</text><text class="car" x="260.25">^</text><text class="car" x="278.94">^</text><text class="car" x="372.38">^</text><text class="car" x="391.06">^</text><text class="car" x="484.5">^</text><text class="car" x="503.19">^</text><text class="car" x="596.63">^</text><text class="car" x="615.31">^</text><text class="car" x="708.75">^</text><text class="car" x="727.44">^</text><text class="car" x="820.88">^</text><text class="car" x="839.56">^</text></g>
<g transform="translate(0 1897)"><text class="car" x="36">^</text><text class="car" x="54.69">^</text><text class="car" x="148.13">^</text><text class="car" x="166.81">^</text><text class="car" x="260.25">^</text><text class="car" x="278.94">^</text><text class="car" x="372.38">^</text><text class="car" x="391.06">^</text><text class="car" x="484.5">^</text><text class="car" x="503.19">^</text><text class="car" x="596.63">^</text><text class="car" x="615.31">^</text><text class="car" x="708.75">^</text><text class="car" x="727.44">^</text><text class="car" x="820.88">^</text><text class="car" x="839.56">^</text></g>
<g transform="translate(0 1916.52)"><text class="car" x="36">^</text><text class="car" x="54.69">^</text><text class="car" x="148.13">^</text><text class="car" x="166.81">^</text><text class="car" x="260.25">^</text><text class="car" x="278.94">^</text><text class="car" x="372.38">^</text><text class="car" x="391.06">^</text><text class="car" x="484.5">^</text><text class="car" x="503.19">^</text><text class="car" x="596.63">^</text><text class="car" x="615.31">^</text><text class="car" x="708.75">^</text><text class="car" x="727.44">^</text><text class="car" x="820.88">^</text><text class="car" x="839.56">^</text></g>
<g transform="translate(0 1936.04)"><text class="car" x="36">^</text><text class="car" x="54.69">^</text><text class="car" x="148.13">^</text><text class="car" x="166.81">^</text><text class="car" x="260.25">^</text><text class="car" x="278.94">^</text><text class="car" x="372.38">^</text><text class="car" x="391.06">^</text><text class="car" x="484.5">^</text><text class="car" x="503.19">^</text><text class="car" x="596.63">^</text><text class="car" x="615.31">^</text><text class="car" x="708.75">^</text><text class="car" x="727.44">^</text><text class="car" x="820.88">^</text><text class="car" x="839.56">^</text></g>
</g>
</svg>
